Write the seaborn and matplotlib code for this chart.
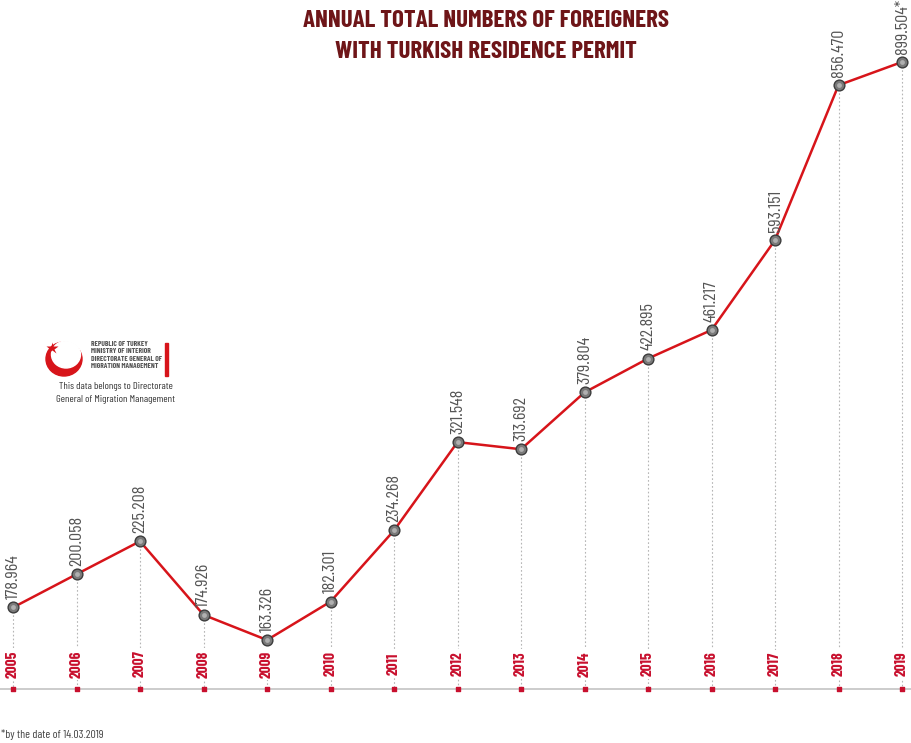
import matplotlib
matplotlib.use('Agg')
import matplotlib.pyplot as plt
import matplotlib.patches as mpatches
from matplotlib.lines import Line2D
from matplotlib import font_manager
import numpy as np
import pandas as pd
import seaborn as sns

years = [2005, 2006, 2007, 2008, 2009, 2010, 2011, 2012, 2013, 2014, 2015, 2016, 2017, 2018, 2019]
permits = [178964, 200058, 225208, 174926, 163326, 182301, 234268, 321548, 313692,
           379804, 422895, 461217, 593151, 856470, 899504]
value_labels = ['178.964', '200.058', '225.208', '174.926', '163.326', '182.301', '234.268',
                '321.548', '313.692', '379.804', '422.895', '461.217', '593.151', '856.470',
                '899.504*']

d = pd.DataFrame({'year': years, 'permits': permits})

sns.set_style('white')
names = {f.name for f in font_manager.fontManager.ttflist}
NARROW = next((n for n in ['Barlow Condensed', 'Roboto Condensed', 'Sofia Sans Condensed',
                           'Saira ExtraCondensed', 'DejaVu Sans'] if n in names))
plt.rcParams['font.family'] = [NARROW, 'DejaVu Sans']
COND = dict(family=[NARROW, 'DejaVu Sans'])

W, H = 912, 743
fig = plt.figure(figsize=(W / 100, H / 100), dpi=100)
ax = fig.add_axes([0, 0, 1, 1])

# the original graphic is not drawn on a linear scale; a mild power scale follows it better
C, P = 155000.0, 0.65
fwd = lambda v: np.sign(v - C) * np.abs(v - C) ** P
inv = lambda t: C + np.sign(t) * np.abs(t) ** (1 / P)
ax.set_yscale('function', functions=(fwd, inv))

# pixel mapping: 2005 -> x=13, step ~63.5 px ; 163326 -> y=640, 899504 -> y=62
step = 63.5
ax.set_xlim(2005 - 13 / step, 2005 + (W - 13) / step)
t0, t1 = fwd(163326.0), fwd(899504.0)
tpp = (t1 - t0) / 578.0

def ypx(p):
    # pixel from top -> data value
    return inv(t0 - (p - 640) * tpp)

ax.set_ylim(ypx(H), ypx(0))
ax.axis('off')

# dotted guides
for x, y in zip(years, permits):
    ax.plot([x, x], [y, ypx(689)], ls=(0, (1.5, 2)), color='#b5b5b5', lw=0.8, zorder=1)

# baseline
ax.axhline(ypx(689), color='#c4c4c4', lw=1.2, zorder=1)

sns.lineplot(data=d, x='year', y='permits', ax=ax, color='#d7141a', lw=1.8, zorder=3)
ax.scatter(years, permits, s=60, color='#7a7a7a', edgecolor='#3c3c3c', linewidth=1, zorder=4)
ax.scatter(years, permits, s=12, color='#b0b0b0', linewidth=0, zorder=5)
ax.scatter(years, [ypx(689)] * len(years), s=9, marker='s', color='#c8102e', zorder=4)

# labels
for x, y, lab in zip(years, permits, value_labels):
    ax.annotate(lab, (x, y), xytext=(0, 6), textcoords='offset points', rotation=90,
                ha='center', va='bottom', fontsize=13, color='#555555', **COND)
    ax.text(x, ypx(664), str(x), rotation=90, ha='center', va='center', fontsize=11,
            fontweight='bold', color='#c8102e', zorder=6,
            bbox=dict(boxstyle='square,pad=0.15', fc='white', ec='none'), **COND)

fig.text(486 / W, 1 - 21 / H, 'ANNUAL TOTAL NUMBERS OF FOREIGNERS', ha='center',
         va='center', fontsize=18, fontweight='bold', color='#6e1518', **COND)
fig.text(486 / W, 1 - 52 / H, 'WITH TURKISH RESIDENCE PERMIT', ha='center', va='center',
         fontsize=18, fontweight='bold', color='#6e1518', **COND)

fig.text(1 / W, 1 - 735 / H, '*by the date of 14.03.2019', ha='left', va='center',
         fontsize=8.5, color='#444444', **COND)

# logo: crescent, star, ministry lines, red bar
fig.add_artist(mpatches.Ellipse((64 / W, 1 - 359 / H), 36 / W, 34 / H, color='#d7141a',
                                transform=fig.transFigure))
fig.add_artist(mpatches.Ellipse((66 / W, 1 - 354.5 / H), 29 / W, 27 / H, color='white',
                                transform=fig.transFigure))
fig.add_artist(Line2D([52 / W], [1 - 348 / H], marker='*', ms=9, color='#d7141a',
                      mec='none', transform=fig.transFigure))
for i, t in enumerate(['REPUBLIC OF TURKEY', 'MINISTRY OF INTERIOR',
                       'DIRECTORATE GENERAL OF', 'MIGRATION MANAGEMENT']):
    fig.text(91 / W, 1 - (344 + i * 7.3) / H, t, ha='left', va='center', fontsize=5.4,
             fontweight='bold', color='#555555', **COND)
fig.add_artist(mpatches.Rectangle((165 / W, 1 - 376 / H), 2.5 / W, 33 / H,
                                  color='#d7141a', transform=fig.transFigure))
fig.text(116 / W, 1 - 387 / H, 'This data belongs to Directorate', ha='center',
         va='center', fontsize=7.5, color='#333333', **COND)
fig.text(116 / W, 1 - 400 / H, 'General of Migration Management', ha='center',
         va='center', fontsize=7.5, color='#333333', **COND)

fig.savefig('out.png', dpi=100, facecolor='white')
